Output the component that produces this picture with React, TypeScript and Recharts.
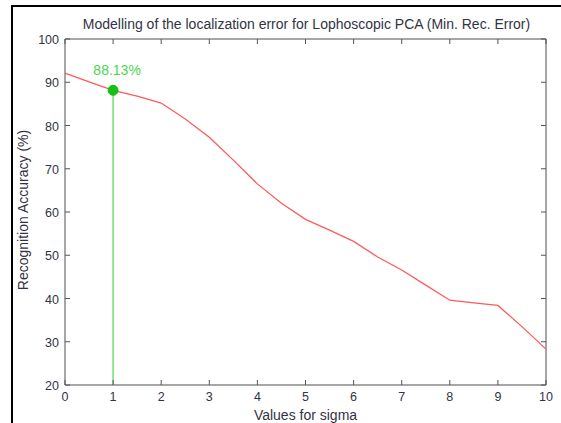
import { LineChart, Line, XAxis, YAxis, ReferenceLine, ReferenceDot } from 'recharts'

const sigma = [0, 0.5, 1, 1.5, 2, 2.5, 3, 3.5, 4, 4.5, 5, 5.5, 6, 6.5, 7, 7.5, 8, 8.5, 9, 9.5, 10]
const accuracy = [92.1, 90.1, 88.13, 86.8, 85.2, 81.5, 77.3, 72.0, 66.5, 62.0, 58.3, 55.8, 53.2, 49.6, 46.6, 43.1, 39.6, 39.0, 38.4, 33.5, 28.3]
const xTicks = [0, 1, 2, 3, 4, 5, 6, 7, 8, 9, 10]
const yTicks = [20, 30, 40, 50, 60, 70, 80, 90, 100]
const bestSigma = 1
const bestAccuracy = 88.13

const data = sigma.map((s, i) => ({ sigma: s, acc: accuracy[i] }))

const W = 561
const H = 423
const PLOT_LEFT = 65
const PLOT_RIGHT = 546
const PLOT_TOP = 39
const PLOT_BOTTOM = 385
const FONT = '"Liberation Sans", Arial, sans-serif'
const TEXT = '#333344'
const AXIS = '#888'

const BottomTick = ({ x, payload }: any) => (
  <g>
    <line x1={x} y1={PLOT_BOTTOM} x2={x} y2={PLOT_BOTTOM - 5} stroke="#555" />
    <text x={x} y={PLOT_BOTTOM + 16} textAnchor="middle" fontSize={12.5} fontFamily={FONT} fill={TEXT}>
      {payload.value}
    </text>
  </g>
)

const TopTick = ({ x }: any) => <line x1={x} y1={PLOT_TOP} x2={x} y2={PLOT_TOP + 5} stroke="#555" />

const LeftTick = ({ y, payload }: any) => (
  <g>
    <line x1={PLOT_LEFT} y1={y} x2={PLOT_LEFT + 5} y2={y} stroke="#555" />
    <text x={PLOT_LEFT - 6} y={y + 5} textAnchor="end" fontSize={12.5} fontFamily={FONT} fill={TEXT}>
      {payload.value}
    </text>
  </g>
)

const RightTick = ({ y }: any) => <line x1={PLOT_RIGHT} y1={y} x2={PLOT_RIGHT - 5} y2={y} stroke="#555" />

export default function App() {
  const midY = (PLOT_TOP + PLOT_BOTTOM) / 2
  return (
    <div style={{ position: 'absolute', left: 0, top: 0, width: W, height: H, background: '#fff', fontFamily: FONT }}>
      <div style={{ position: 'absolute', left: 11, top: 5, right: 0, bottom: 0, borderLeft: '2px solid #000', borderTop: '2px solid #000' }} />
      <div style={{ position: 'absolute', left: 0, top: 0 }}>
        <LineChart width={W} height={H} data={data} margin={{ top: PLOT_TOP - 1, right: W - PLOT_RIGHT - 1, bottom: 0, left: 0 }}>
          <XAxis
            dataKey="sigma"
            type="number"
            domain={[0, 10]}
            ticks={xTicks}
            height={H - PLOT_BOTTOM}
            stroke={AXIS}
            strokeWidth={1.5}
            tickLine={false}
            tick={<BottomTick />}
            interval={0}
          />
          <XAxis
            xAxisId="top"
            orientation="top"
            dataKey="sigma"
            type="number"
            domain={[0, 10]}
            ticks={xTicks}
            height={1}
            stroke={AXIS}
            strokeWidth={1.5}
            tickLine={false}
            tick={<TopTick />}
            interval={0}
          />
          <YAxis
            type="number"
            domain={[20, 100]}
            ticks={yTicks}
            width={PLOT_LEFT}
            stroke={AXIS}
            strokeWidth={1.5}
            tickLine={false}
            tick={<LeftTick />}
            interval={0}
          />
          <YAxis
            yAxisId="right"
            orientation="right"
            type="number"
            domain={[20, 100]}
            ticks={yTicks}
            width={1}
            stroke={AXIS}
            strokeWidth={1.5}
            tickLine={false}
            tick={<RightTick />}
            interval={0}
          />
          <Line
            xAxisId="top"
            yAxisId="right"
            dataKey="acc"
            stroke="none"
            dot={false}
            activeDot={false}
            isAnimationActive={false}
          />
          <Line dataKey="acc" stroke="#ff5a5a" strokeWidth={1.3} dot={false} isAnimationActive={false} />
          <ReferenceLine
            segment={[{ x: bestSigma, y: bestAccuracy }, { x: bestSigma, y: 20 }]}
            stroke="#6ee06e"
            strokeWidth={1.5}
          />
          <ReferenceDot
            x={bestSigma}
            y={bestAccuracy}
            r={5}
            fill="#13c013"
            stroke="#13c013"
            label={{ value: `${bestAccuracy}%`, position: 'top', offset: 10, fill: '#4cd84c', fontSize: 14, fontFamily: FONT, dx: 4 }}
          />
          <text x={(PLOT_LEFT + PLOT_RIGHT) / 2 + 1} y={29} textAnchor="middle" fontSize={14} fontFamily={FONT} fill={TEXT}>
            Modelling of the localization error for Lophoscopic PCA (Min. Rec. Error)
          </text>
          <text x={(PLOT_LEFT + PLOT_RIGHT) / 2} y={420} textAnchor="middle" fontSize={14} fontFamily={FONT} fill={TEXT}>
            Values for sigma
          </text>
          <text
            x={28}
            y={midY - 2}
            textAnchor="middle"
            fontSize={14}
            fontFamily={FONT}
            fill={TEXT}
            transform={`rotate(-90 28 ${midY - 2})`}
          >
            Recognition Accuracy (%)
          </text>
        </LineChart>
      </div>
    </div>
  )
}
